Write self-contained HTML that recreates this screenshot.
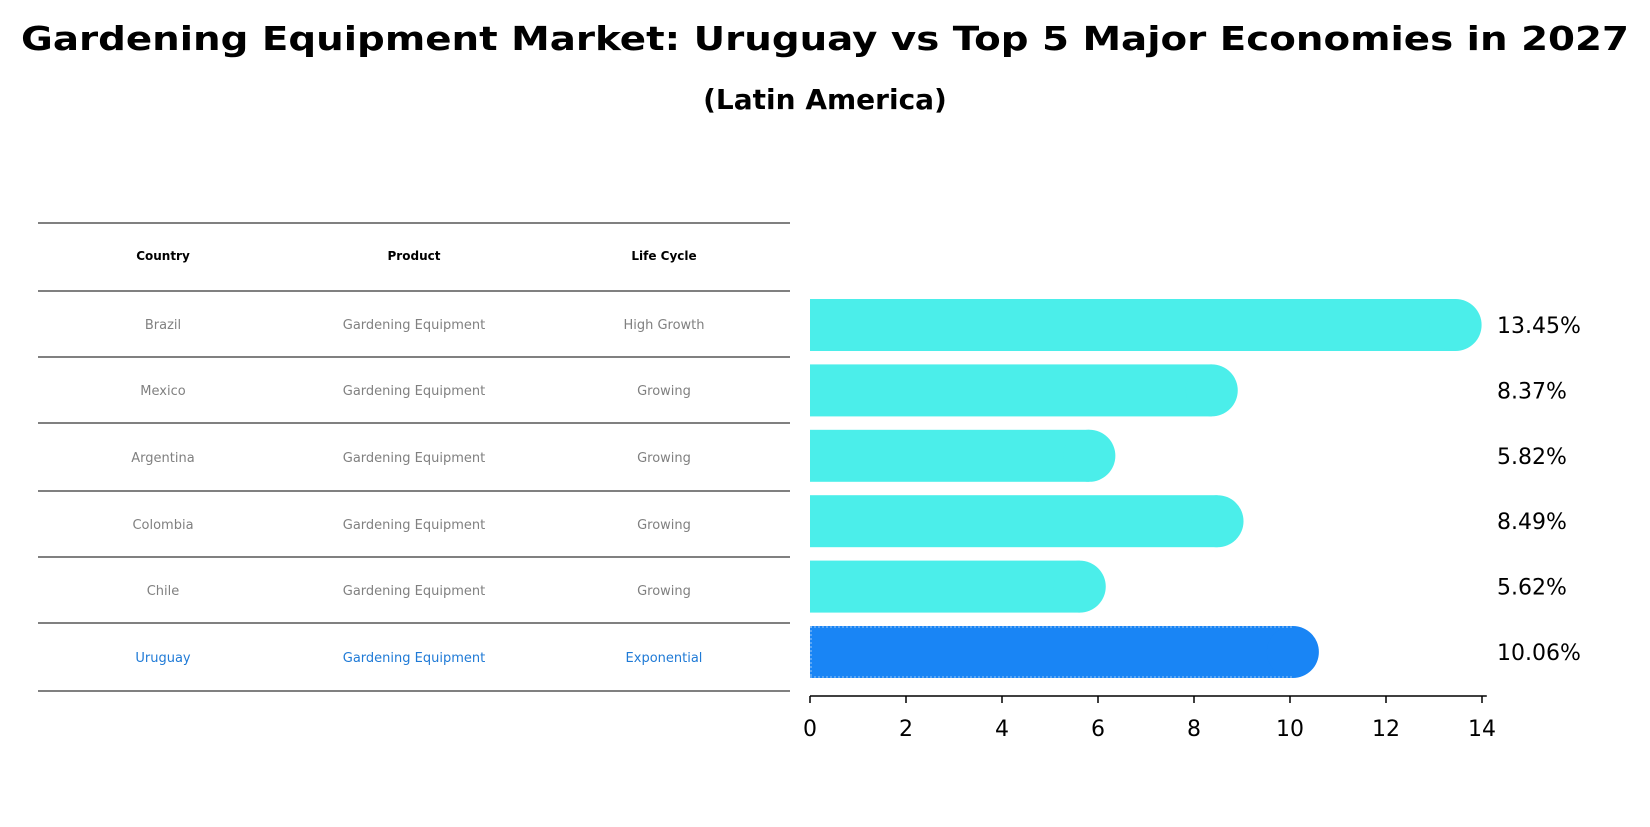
<!DOCTYPE html>
<html><head><meta charset="utf-8"><style>
body{margin:0;background:#fff;font-family:"DejaVu Sans","Liberation Sans",sans-serif}
</style></head><body>
<svg width="1650" height="823" xmlns="http://www.w3.org/2000/svg" font-family="DejaVu Sans, Liberation Sans, sans-serif">
<text x="825" y="50" text-anchor="middle" font-size="33" font-weight="bold" textLength="1608" lengthAdjust="spacingAndGlyphs">Gardening Equipment Market: Uruguay vs Top 5 Major Economies in 2027</text>
<text x="825" y="109" text-anchor="middle" font-size="28" font-weight="bold">(Latin America)</text>
<g id="table"></g>
<g id="bars"></g>
<g id="axis"></g>
</svg>
<script>
const countries=["Brazil","Mexico","Argentina","Colombia","Chile","Uruguay"];
const products=["Gardening Equipment","Gardening Equipment","Gardening Equipment","Gardening Equipment","Gardening Equipment","Gardening Equipment"];
const lifeCycles=["High Growth","Growing","Growing","Growing","Growing","Exponential"];
const values=[13.45,8.37,5.82,8.49,5.62,10.06];
const valueLabels=["13.45%","8.37%","5.82%","8.49%","5.62%","10.06%"];
const ticks=[0,2,4,6,8,10,12,14];
const NS="http://www.w3.org/2000/svg";
function mk(t,a,p,txt){const e=document.createElementNS(NS,t);for(const k in a)e.setAttribute(k,a[k]);if(txt!==undefined)e.textContent=txt;p.appendChild(e);return e;}
const x=v=>810+v*48;
const rowY=i=>325+i*65.4;
const tbl=document.getElementById('table');
const lines=[223,291,357,423,491,557,623,691];
lines.forEach((ly,i)=>{const l=mk('line',{x1:38,x2:790,y1:ly,y2:ly,stroke:'#000','stroke-width':1},tbl);

});
const cx=[163,414,664];
["Country","Product","Life Cycle"].forEach((h,j)=>{const t=mk('text',{x:cx[j],y:260,'text-anchor':'middle','font-size':12,'font-weight':'bold'},tbl,h);

});
countries.forEach((c,i)=>{const cy=(lines[i+1]+lines[i+2])/2+5;const col=i===5?'#1f7ad6':'#808080';
[c,products[i],lifeCycles[i]].forEach((v,j)=>{const t=mk('text',{x:cx[j],y:cy,'text-anchor':'middle','font-size':13,fill:col},tbl,v);

});});
const bars=document.getElementById('bars');const h=52;
values.forEach((v,i)=>{const cy=rowY(i);const col=i===5?'#1985f5':'#4beeea';
const g=mk('g',{},bars);


mk('rect',{x:x(0),y:cy-h/2,width:x(v)-x(0),height:h,fill:col},g);
mk('circle',{cx:x(v),cy:cy,r:h/2,fill:col},g);
if(i===5){mk('path',{d:`M${x(0)},${cy-h/2+1} H${x(v)} M${x(0)},${cy+h/2-1} H${x(v)} M${x(0)+1},${cy-h/2} V${cy+h/2}`,fill:'none',stroke:'#9cc8f5','stroke-width':1,'stroke-dasharray':'2 2'},g);}
const t=mk('text',{x:1497,y:cy+8,'font-size':22},bars,valueLabels[i]);

});
const ax=document.getElementById('axis');
mk('line',{x1:x(0),x2:x(14.1),y1:696,y2:696,stroke:'#000','stroke-width':1.5},ax);
ticks.forEach(tv=>{mk('line',{x1:x(tv),x2:x(tv),y1:696,y2:703,stroke:'#000','stroke-width':1.5},ax);
const t=mk('text',{x:x(tv),y:736,'text-anchor':'middle','font-size':22},ax,tv);

});
</script>
</body></html>
